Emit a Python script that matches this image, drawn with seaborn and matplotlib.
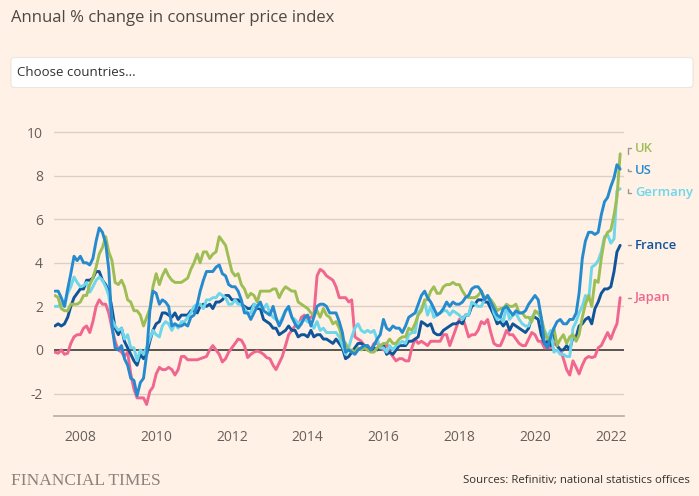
import numpy as np
import pandas as pd
import matplotlib
matplotlib.use("Agg")
import matplotlib.pyplot as plt
import matplotlib.dates as mdates
import matplotlib.transforms as mtransforms
from matplotlib.patches import FancyBboxPatch
from matplotlib import font_manager as fm
import seaborn as sns

# ---------------- data (monthly, May 2007 - Apr 2022) ----------------
start_month = "2007-05-01"
end_month = "2022-04-01"

uk = [2.5, 2.4, 1.9, 1.8, 1.8, 2.1, 2.1, 2.1,
      2.2, 2.5, 2.5, 3.0, 3.3, 3.8, 4.4, 4.7, 5.2, 4.5, 4.1, 3.1,
      3.0, 3.2, 2.9, 2.3, 2.2, 1.8, 1.8, 1.6, 1.1, 1.5, 1.9, 2.9,
      3.5, 3.0, 3.4, 3.7, 3.4, 3.2, 3.1, 3.1, 3.1, 3.2, 3.3, 3.7,
      4.0, 4.4, 4.0, 4.5, 4.5, 4.2, 4.4, 4.5, 5.2, 5.0, 4.8, 4.2,
      3.6, 3.4, 3.5, 3.0, 2.8, 2.4, 2.6, 2.5, 2.2, 2.7, 2.7, 2.7,
      2.7, 2.8, 2.8, 2.4, 2.7, 2.9, 2.8, 2.7, 2.7, 2.2, 2.1, 2.0,
      1.9, 1.7, 1.6, 1.8, 1.5, 1.9, 1.6, 1.5, 1.2, 1.3, 1.0, 0.5,
      0.3, 0.0, 0.0, -0.1, 0.1, 0.0, 0.1, 0.0, -0.1, -0.1, 0.1, 0.2,
      0.3, 0.3, 0.5, 0.3, 0.3, 0.5, 0.6, 0.6, 1.0, 0.9, 1.2, 1.6,
      1.8, 2.3, 2.3, 2.7, 2.9, 2.6, 2.6, 2.9, 3.0, 3.0, 3.1, 3.0,
      3.0, 2.7, 2.5, 2.4, 2.4, 2.4, 2.5, 2.7, 2.4, 2.4, 2.3, 2.1,
      1.8, 1.9, 1.9, 2.1, 2.0, 2.0, 2.1, 1.7, 1.7, 1.5, 1.5, 1.3,
      1.8, 1.7, 1.5, 0.8, 0.5, 0.6, 1.0, 0.2, 0.5, 0.7, 0.3, 0.6,
      0.7, 0.4, 0.7, 1.5, 2.1, 2.5, 2.0, 3.2, 3.1, 4.2, 5.1, 5.4,
      5.5, 6.2, 7.0, 9.0]

us = [2.7, 2.7, 2.4, 2.0, 2.8, 3.5, 4.3, 4.1,
      4.3, 4.0, 4.0, 3.9, 4.2, 5.0, 5.6, 5.4, 4.9, 3.7, 1.1, 0.1,
      0.0, 0.2, -0.4, -0.7, -1.3, -1.4, -2.1, -1.5, -1.3, -0.2, 1.8, 2.7,
      2.6, 2.1, 2.3, 2.2, 2.0, 1.1, 1.2, 1.1, 1.1, 1.2, 1.1, 1.5,
      1.6, 2.1, 2.7, 3.2, 3.6, 3.6, 3.6, 3.8, 3.9, 3.5, 3.4, 3.0,
      2.9, 2.9, 2.7, 2.3, 1.7, 1.7, 1.4, 1.7, 2.0, 2.2, 1.8, 1.7,
      1.6, 2.0, 1.5, 1.1, 1.4, 1.8, 2.0, 1.5, 1.2, 1.0, 1.2, 1.5,
      1.6, 1.1, 1.5, 2.0, 2.1, 2.1, 2.0, 1.7, 1.7, 1.7, 1.3, 0.8,
      -0.1, 0.0, -0.1, -0.2, 0.0, 0.1, 0.2, 0.2, 0.0, 0.2, 0.5, 0.7,
      1.4, 1.0, 0.9, 1.1, 1.0, 1.0, 0.8, 1.1, 1.5, 1.6, 1.7, 2.1,
      2.5, 2.7, 2.4, 2.2, 1.9, 1.6, 1.7, 1.9, 2.2, 2.0, 2.2, 2.1,
      2.1, 2.2, 2.4, 2.5, 2.8, 2.9, 2.9, 2.7, 2.3, 2.5, 2.2, 1.9,
      1.6, 1.5, 1.9, 2.0, 1.8, 1.6, 1.8, 1.7, 1.7, 1.8, 2.1, 2.3,
      2.5, 2.3, 1.5, 0.3, 0.1, 0.6, 1.0, 1.3, 1.4, 1.2, 1.2, 1.4,
      1.4, 1.7, 2.6, 4.2, 5.0, 5.4, 5.4, 5.3, 5.4, 6.2, 6.8, 7.0,
      7.5, 7.9, 8.5, 8.3]

germany = [2.0, 2.0, 2.1, 2.0, 2.6, 2.9, 3.35, 3.1,
           2.9, 2.95, 3.1, 2.65, 2.9, 3.2, 3.35, 3.2, 2.9, 2.5, 1.4, 1.1,
           0.9, 1.0, 0.5, 0.7, 0.1, 0.1, -0.5, 0.0, -0.2, 0.1, 0.5, 0.9,
           0.7, 0.6, 1.1, 1.3, 1.2, 0.9, 1.2, 1.0, 1.3, 1.3, 1.5, 1.7,
           2.0, 2.1, 2.1, 1.9, 2.3, 2.3, 2.4, 2.4, 2.6, 2.5, 2.4, 2.1,
           2.1, 2.3, 2.1, 2.1, 1.9, 1.7, 1.7, 2.1, 2.0, 2.0, 1.9, 2.1,
           1.7, 1.5, 1.4, 1.2, 1.5, 1.8, 1.9, 1.5, 1.4, 1.2, 1.3, 1.4,
           1.3, 1.2, 1.0, 1.3, 0.9, 1.0, 0.8, 0.8, 0.8, 0.8, 0.6, 0.2,
           -0.2, 0.1, 0.6, 1.0, 1.2, 0.9, 0.8, 0.9, 0.8, 0.9, 0.5, 0.1,
           0.1, -0.1, 0.2, 0.0, 0.2, 0.3, 0.4, 0.3, 0.7, 0.8, 0.8, 1.7,
           1.9, 2.2, 1.6, 2.0, 1.5, 1.6, 1.7, 1.8, 1.8, 1.6, 1.8, 1.7,
           1.6, 1.4, 1.6, 1.6, 2.2, 2.1, 2.0, 2.0, 2.3, 2.5, 2.3, 1.7,
           1.4, 1.5, 1.3, 2.0, 1.4, 1.6, 1.7, 1.4, 1.2, 1.1, 1.1, 1.5,
           1.7, 1.7, 1.4, 0.9, 0.6, 0.9, -0.1, 0.0, -0.2, -0.2, -0.3, -0.3,
           1.0, 1.3, 1.7, 2.0, 2.5, 2.3, 3.8, 3.9, 4.1, 4.5, 5.2, 5.3,
           4.9, 5.1, 7.3, 7.4]

france = [1.1, 1.2, 1.1, 1.2, 1.5, 2.0, 2.4, 2.6,
          2.8, 2.8, 3.2, 3.2, 3.3, 3.6, 3.6, 3.2, 3.0, 2.7, 1.9, 1.0,
          0.7, 1.0, 0.4, 0.1, -0.2, -0.5, -0.7, -0.2, -0.4, -0.2, 0.4, 0.9,
          1.2, 1.3, 1.7, 1.7, 1.6, 1.5, 1.7, 1.4, 1.6, 1.6, 1.6, 1.8,
          1.8, 1.7, 2.0, 2.1, 2.0, 2.1, 1.9, 2.2, 2.2, 2.3, 2.5, 2.5,
          2.3, 2.3, 2.3, 2.1, 2.0, 1.9, 1.9, 2.1, 1.9, 1.9, 1.4, 1.3,
          1.2, 1.0, 1.0, 0.7, 0.8, 0.9, 1.1, 0.9, 0.9, 0.6, 0.7, 0.7,
          0.6, 0.9, 0.6, 0.7, 0.7, 0.5, 0.5, 0.4, 0.3, 0.5, 0.3, 0.1,
          -0.4, -0.3, -0.1, 0.1, 0.3, 0.3, 0.2, 0.0, 0.0, 0.1, 0.0, 0.2,
          0.2, -0.2, -0.1, -0.2, 0.0, 0.2, 0.2, 0.2, 0.4, 0.4, 0.5, 0.6,
          1.3, 1.2, 1.1, 1.2, 0.8, 0.7, 0.7, 0.9, 1.0, 1.1, 1.2, 1.2,
          1.3, 1.2, 1.6, 1.6, 2.0, 2.1, 2.3, 2.3, 2.2, 2.2, 1.9, 1.6,
          1.2, 1.3, 1.1, 1.3, 0.9, 1.2, 1.1, 1.0, 0.9, 0.8, 1.0, 1.5,
          1.5, 1.4, 0.7, 0.3, 0.4, 0.2, 0.8, 0.2, 0.0, 0.0, 0.2, 0.0,
          0.6, 0.6, 1.1, 1.2, 1.4, 1.5, 1.2, 1.9, 2.2, 2.6, 2.8, 2.8,
          2.9, 3.6, 4.5, 4.8]

japan = [-0.1, -0.15, 0.0, -0.2, -0.15, 0.3, 0.6, 0.7,
         0.7, 1.0, 1.1, 0.8, 1.3, 2.0, 2.3, 2.1, 2.1, 1.7, 1.0, 0.4,
         0.0, -0.1, -0.3, -0.1, -1.1, -1.8, -2.2, -2.2, -2.2, -2.5, -1.9, -1.7,
         -1.1, -0.8, -0.9, -0.9, -0.8, -0.9, -1.15, -0.9, -0.3, -0.3, -0.45, -0.45,
         -0.45, -0.45, -0.4, -0.35, -0.3, 0.0, 0.2, 0.0, -0.2, -0.55, -0.4, -0.1,
         0.1, 0.3, 0.5, 0.45, 0.2, -0.35, -0.2, -0.1, -0.05, -0.1, -0.2, -0.35,
         -0.4, -0.7, -0.9, -0.6, -0.3, 0.2, 0.7, 0.9, 1.1, 1.1, 1.5, 1.6,
         1.4, 1.5, 1.6, 3.4, 3.7, 3.6, 3.4, 3.3, 3.2, 2.9, 2.4, 2.4,
         2.4, 2.2, 2.3, 0.6, 0.5, 0.4, 0.2, 0.2, 0.0, 0.3, 0.3, 0.2,
         0.0, 0.3, -0.1, -0.3, -0.5, -0.4, -0.4, -0.5, -0.5, 0.1, 0.5, 0.3,
         0.4, 0.3, 0.2, 0.4, 0.4, 0.4, 0.4, 0.7, 0.7, 0.2, 0.6, 1.0,
         1.4, 1.5, 1.1, 0.6, 0.7, 0.7, 0.9, 1.3, 1.2, 1.4, 0.8, 0.3,
         0.2, 0.2, 0.5, 0.9, 0.7, 0.7, 0.5, 0.3, 0.2, 0.2, 0.5, 0.8,
         0.7, 0.4, 0.4, 0.1, 0.1, 0.1, 0.3, 0.2, 0.0, -0.4, -0.9, -1.15,
         -0.5, -0.8, -1.1, -0.7, -0.4, -0.3, -0.35, -0.3, 0.1, 0.2, 0.5, 0.8,
         0.5, 0.9, 1.2, 2.4]

countries = ["Japan", "France", "Germany", "UK", "US"]
series = {"UK": uk, "US": us, "Germany": germany, "France": france, "Japan": japan}
colors = {"UK": "#9DBE55", "US": "#258BCE", "Germany": "#6DD6EA",
          "France": "#10559A", "Japan": "#F0668F"}
y_ticks = [-2, 0, 2, 4, 6, 8, 10]

title = "Annual % change in consumer price index"
box_text = "Choose countries..."
brand = "FINANCIAL TIMES"
source = "Sources: Refinitiv; national statistics offices"

# ---------------- build frame ----------------
dates = pd.date_range(start_month, end_month, freq="MS")
frames = []
for c in countries:
    assert len(series[c]) == len(dates), c
    frames.append(pd.DataFrame({"date": dates, "value": series[c], "country": c}))
df = pd.concat(frames, ignore_index=True)

# ---------------- style ----------------
BG = "#FFF1E5"
sns.set_theme(style="white")
avail = {f.name for f in fm.fontManager.ttflist}
main_font = "Open Sans" if "Open Sans" in avail else "DejaVu Sans"
plt.rcParams["font.family"] = [main_font, "DejaVu Sans"]
plt.rcParams["axes.unicode_minus"] = False

W, H = 699, 496
fig = plt.figure(figsize=(W / 100, H / 100), dpi=100, facecolor=BG)

ax_l, ax_r, ax_t, ax_b = 54, 624, 125.5, 416
ax = fig.add_axes([ax_l / W, 1 - ax_b / H, (ax_r - ax_l) / W, (ax_b - ax_t) / H])
ax.set_facecolor(BG)

for yv in y_ticks:
    if yv != 0:
        ax.axhline(yv, color="#DCD0C5", lw=1.0, zorder=0)
ax.axhline(0, color="#4D4845", lw=1.3, zorder=1)

sns.lineplot(data=df, x="date", y="value", hue="country", hue_order=countries,
             palette=colors, linewidth=2.1, legend=False, ax=ax, zorder=3)

ax.set_xlim(pd.Timestamp("2007-04-22"), pd.Timestamp("2022-05-08"))
ax.set_ylim(-3.03, 10.3)
ax.set_xlabel("")
ax.set_ylabel("")
ax.xaxis.set_major_locator(mdates.YearLocator(2))
ax.xaxis.set_major_formatter(mdates.DateFormatter("%Y"))
ax.set_yticks(y_ticks)
ax.set_yticklabels([str(v) for v in y_ticks])
ax.tick_params(axis="y", length=0, pad=8, labelsize=10, labelcolor="#66605C")
ax.tick_params(axis="x", length=6, width=1, color="#B5AAA0", pad=4,
               labelsize=10, labelcolor="#66605C", direction="out")
for s in ["top", "right", "left"]:
    ax.spines[s].set_visible(False)
ax.spines["bottom"].set_color("#BDB2A8")
ax.spines["bottom"].set_linewidth(1.3)
ax.grid(False)

# ---------------- end labels with simple repel ----------------
ends = {c: series[c][-1] for c in countries}
order = sorted(countries, key=lambda c: ends[c], reverse=True)
gap = 1.02
clusters = [[c] for c in order]

def positions(cl):
    center = np.mean([ends[c] for c in cl])
    n = len(cl)
    return [center + ((n - 1) / 2 - k) * gap for k in range(n)]

changed = True
while changed:
    changed = False
    for i in range(len(clusters) - 1):
        if positions(clusters[i])[-1] - positions(clusters[i + 1])[0] < gap:
            clusters[i] = clusters[i] + clusters[i + 1]
            del clusters[i + 1]
            changed = True
            break
label_y = {}
for cl in clusters:
    for c, p in zip(cl, positions(cl)):
        label_y[c] = p

trans = mtransforms.blended_transform_factory(ax.transAxes, ax.transData)
span = ax_r - ax_l
x0 = (628 - ax_l) / span
x1 = (631 - ax_l) / span
xt = (635 - ax_l) / span
for c in countries:
    ax.plot([x0, x0, x1], [ends[c], label_y[c], label_y[c]], transform=trans,
            color="#9E968F", lw=1.0, clip_on=False)
    ax.text(xt, label_y[c], c, transform=trans, color=colors[c], fontsize=9.4,
            fontweight="semibold", va="center", ha="left", clip_on=False)

# ---------------- header and footer ----------------
fig.text(11 / W, 1 - 18 / H, title, fontsize=12, color="#4D4845",
         va="center", ha="left")
box = FancyBboxPatch((11 / 100, (H - 87.5) / 100), 6.82, 0.30,
                     boxstyle="round,pad=0,rounding_size=0.03",
                     transform=fig.dpi_scale_trans, facecolor="white",
                     edgecolor="#EDE6DF", linewidth=0.8)
fig.add_artist(box)
fig.text(17 / W, 1 - 72.5 / H, box_text, fontsize=9.5, color="#33302E",
         va="center", ha="left")
fig.text(11 / W, 1 - 481 / H, brand, fontsize=12.5, color="#8A817A",
         family=["Liberation Serif", "DejaVu Serif"], va="center", ha="left")
fig.text(690 / W, 1 - 481 / H, source, fontsize=8.2, color="#33302E",
         va="center", ha="right")

fig.savefig("out.png", dpi=100, facecolor=BG)
